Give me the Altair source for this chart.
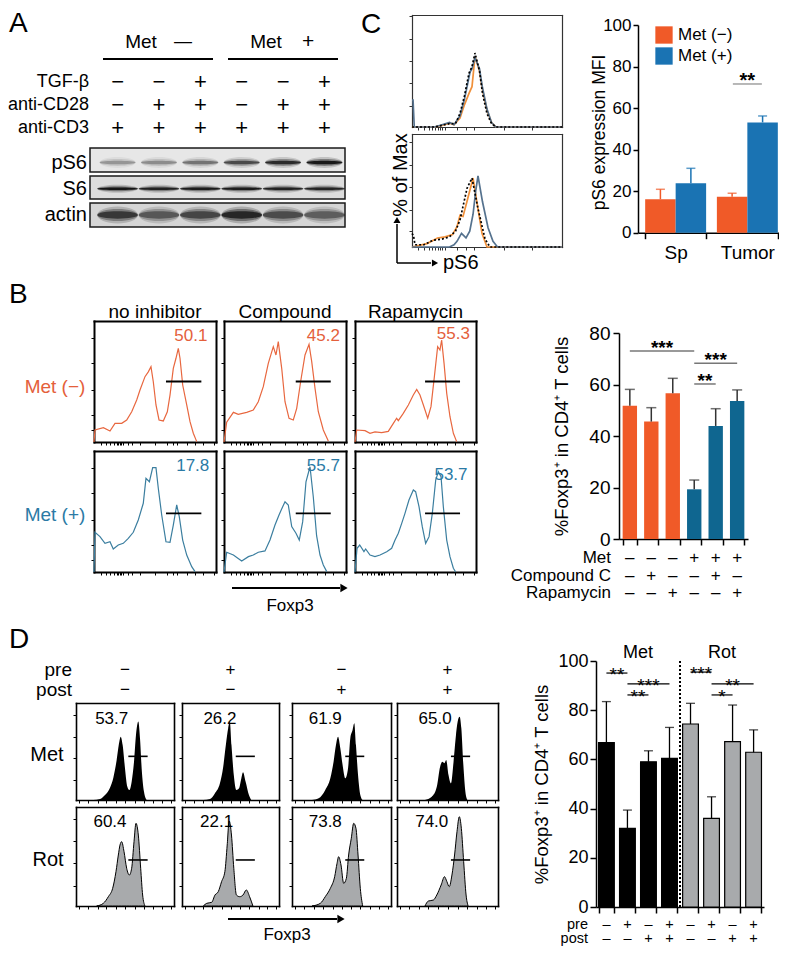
import altair as alt
import pandas as pd

FONT = "Liberation Sans"
W, H = 771, 939

# ======================= DATA =======================
# ---- Panel A : western blot ----
lanes = ["L1", "L2", "L3", "L4", "L5", "L6"]
a_factors = ["TGF-β", "anti-CD28", "anti-CD3"]
a_tgfb = ["−", "−", "+", "−", "−", "+"]
a_cd28 = ["−", "+", "+", "−", "+", "+"]
a_cd3 = ["+", "+", "+", "+", "+", "+"]
blot_rows = ["pS6", "S6", "actin"]
blot_pS6 = [0.30, 0.34, 0.45, 0.66, 0.86, 1.00]
blot_S6 = [0.90, 0.82, 0.86, 0.86, 0.82, 0.80]
blot_actin = [0.85, 0.62, 0.74, 1.00, 0.70, 0.58]

# ---- Panel B : Foxp3 histograms (x, y in % of panel) ----
b_cols = ["no inhibitor", "Compound", "Rapamycin"]
b_rows = ["Met (−)", "Met (+)"]
b_m_noinh_x = [0, 0.8, 7.7, 13.1, 17.2, 22.7, 26.8, 30.9, 35.0, 37.7, 41.8, 44.5, 46.7, 48.6, 50.8, 53.3, 56.8, 60.1, 62.3, 65.0, 67.2, 69.1, 70.5, 72.7, 76.0, 78.7, 81.4, 84.2]
b_m_noinh_y = [0, 9.9, 11.8, 9.1, 15.4, 15.4, 18.2, 25.0, 34.7, 43.0, 54.0, 58.0, 62.2, 49.8, 30.6, 18.2, 17.4, 25.0, 38.8, 60.9, 69.2, 77.4, 69.2, 47.1, 30.6, 16.8, 7.2, 0.3]
b_m_comp_x = [0, 2.2, 7.7, 11.7, 18.6, 24.0, 28.1, 32.2, 36.3, 40.4, 42.6, 44.5, 47.3, 50.0, 53.3, 56.8, 59.6, 62.8, 66.4, 69.7, 71.9, 74.6, 77.3, 81.4, 85.5]
b_m_comp_y = [0, 16.3, 24.5, 22.9, 24.5, 26.4, 33.3, 45.7, 65.0, 78.8, 71.9, 82.9, 60.9, 33.3, 19.6, 18.2, 27.8, 49.8, 71.9, 80.7, 66.4, 44.4, 25.0, 9.9, 0.8]
b_m_rapa_x = [0, 1.4, 8.3, 12.4, 16.5, 22.0, 27.5, 31.7, 34.4, 35.8, 39.9, 44.1, 48.2, 51.0, 53.7, 56.5, 60.1, 62.8, 65.6, 68.3, 70.2, 71.6, 73.6, 75.8, 78.5, 81.3, 84.0]
b_m_rapa_y = [0, 9.9, 9.4, 7.2, 8.3, 7.7, 8.8, 15.4, 19.6, 17.6, 23.7, 30.6, 38.8, 43.5, 38.8, 30.6, 19.6, 29.2, 54.0, 78.8, 76.0, 84.3, 65.0, 40.2, 20.9, 7.2, 0.3]
b_p_noinh_x = [0, 0.8, 4.9, 9.0, 13.1, 15.8, 19.9, 24.0, 28.1, 32.2, 36.3, 40.4, 42.6, 45.4, 48.1, 50.8, 52.7, 55.5, 59.0, 62.3, 65.0, 67.8, 69.9, 72.7, 76.0, 80.1, 82.8]
b_p_noinh_y = [0, 32.8, 29.2, 23.7, 25.0, 19.0, 22.3, 23.7, 27.8, 32.8, 43.0, 56.8, 77.4, 74.6, 86.2, 86.2, 69.2, 47.1, 25.0, 24.5, 38.8, 55.4, 45.7, 26.4, 14.0, 4.4, 0.3]
b_p_comp_x = [0, 2.2, 7.7, 14.5, 20.0, 24.0, 28.1, 33.6, 37.7, 41.8, 45.1, 48.1, 50.0, 52.7, 55.5, 59.0, 61.7, 64.5, 67.2, 70.5, 73.2, 75.9, 78.7, 81.4, 84.2]
b_p_comp_y = [0, 16.3, 14.0, 9.1, 12.7, 14.0, 16.3, 17.4, 26.4, 38.8, 47.1, 54.0, 58.1, 55.4, 37.5, 32.0, 26.4, 41.6, 74.6, 87.0, 62.0, 30.0, 14.0, 5.8, 0.3]
b_p_rapa_x = [0, 1.7, 3.9, 7.4, 8.8, 12.4, 16.5, 20.7, 26.2, 30.3, 33.1, 35.8, 38.6, 41.3, 44.6, 48.2, 50.1, 52.9, 55.6, 58.4, 61.2, 63.9, 66.7, 68.9, 71.1, 73.0, 75.8, 78.5, 81.3, 83.2]
b_p_rapa_y = [0, 19.6, 22.3, 16.8, 19.0, 14.0, 12.7, 14.0, 16.8, 19.6, 26.4, 32.0, 40.2, 48.5, 59.5, 67.8, 66.4, 54.0, 37.5, 23.7, 29.2, 48.5, 76.0, 82.9, 78.8, 54.0, 26.4, 12.7, 3.1, 0]
b_gate_lo = [59.0, 58.8, 57.9]
b_gate_hi = [88.0, 87.5, 86.8]
b_gate_y = [50.0, 48.5]
b_pct_m = ["50.1", "45.2", "55.3"]
b_pct_p = ["17.8", "55.7", "53.7"]
b_pct_m_x = [93.0, 95.0, 95.0]
b_pct_m_y = [88.0, 88.0, 89.0]
b_pct_p_x = [94.5, 95.0, 93.0]
b_pct_p_y = [88.0, 88.0, 80.0]

# ---- Panel B : bar chart ----
b_cats = ["Met− ctrl", "Met− CC", "Met− Rapa", "Met+ ctrl", "Met+ CC", "Met+ Rapa"]
b_foxp3 = [51.7, 45.6, 56.6, 19.3, 43.9, 53.6]
b_foxp3_err = [58.1, 51.0, 62.4, 22.9, 50.6, 57.9]
b_tab_rows = ["Met", "Compound C", "Rapamycin"]
b_tab_met = ["–", "–", "–", "+", "+", "+"]
b_tab_cc = ["–", "+", "–", "–", "+", "–"]
b_tab_rapa = ["–", "–", "+", "–", "–", "+"]
b_sig_from = [0, 3, 3]
b_sig_to = [3, 5, 4]
b_sig_level = [73.0, 68.3, 60.2]
b_sig_mark = ["***", "***", "**"]

# ---- Panel C : pS6 histograms ----
c_top_or_x = [0, 15, 20, 25, 28, 32, 35, 38, 40, 42, 45, 47, 50, 53, 56, 100]
c_top_or_y = [0, 0, 1.5, 3.5, 2, 8, 20, 30, 36, 63, 50, 33, 15, 4, 0, 0]
c_top_bl_x = [0, 0.7, 1.5, 15, 20, 25, 28, 32, 35, 38.7, 40, 42, 45, 47, 50, 53, 56, 100]
c_top_bl_y = [24, 24, 0, 0, 2, 4, 2, 10, 25, 49, 52, 62, 52, 35, 16, 4, 0, 0]
c_top_dot_x = [0, 15, 20, 25, 29, 32, 35, 38, 40, 42, 45, 47, 50, 53, 56, 100]
c_top_dot_y = [0, 0, 1.5, 3, 3, 12, 28, 48, 54, 66, 50, 30, 12, 3, 0, 0]
c_bot_or_x = [0, 10, 17, 22, 27, 30, 32, 34, 37, 40.7, 43, 46.7, 50, 100]
c_bot_or_y = [0, 3, 8, 9, 11, 18, 28, 27, 42, 61, 42, 12, 0, 0]
c_bot_bl_x = [0, 25, 28, 30, 33, 36, 38.5, 40.7, 42.5, 44, 47, 50.7, 54, 57, 100]
c_bot_bl_y = [0, 0, 2, 5, 12, 8, 14, 29, 50, 63, 40, 17, 5, 0, 0]
c_bot_dot_x = [0, 1, 2, 8, 14, 20, 25, 29, 32, 36.7, 40, 44, 48.7, 52, 100]
c_bot_dot_y = [12, 10, 2, 2, 6, 7, 9, 14, 24, 52, 61, 34, 7, 0, 0]

# ---- Panel C : bar chart ----
c_sites = ["Sp", "Tumor"]
c_groups = ["Met (−)", "Met (+)"]
c_met_minus = [16.1, 17.3]
c_met_minus_err = [20.9, 19.0]
c_met_plus = [23.8, 53.1]
c_met_plus_err = [31.0, 56.2]
c_sig_level = [71.6]
c_sig_mark = ["**"]

# ---- Panel D : histograms ----
d_treat_pre = ["−", "+", "−", "+"]
d_treat_post = ["−", "−", "+", "+"]
d_met_1_x = [17.7, 24.5, 29.6, 34.7, 38.1, 41.5, 44.2, 45.6, 47.6, 50.0, 52.4, 54.4, 56.8, 59.2, 61.2, 63.6, 65.3, 67.0, 69.4, 72.1]
d_met_1_y = [0, 1, 5.2, 12.7, 23, 41.2, 60.1, 65.3, 56.7, 32.6, 13.7, 10.3, 18.9, 39.5, 67, 80.8, 63.6, 32.6, 8.6, 0]
d_met_2_x = [22, 28.9, 34, 39.1, 42.5, 45.2, 47.6, 49.3, 51, 53.4, 56.1, 58.8, 61.2, 62.9, 65.6, 69, 71.4]
d_met_2_y = [0, 1, 6.9, 17.2, 34.4, 56.7, 73.9, 80.8, 56.7, 25.8, 10.3, 12, 22.3, 28.5, 18.9, 5.2, 0]
d_met_3_x = [20.2, 26.9, 33.6, 38.7, 42, 44.4, 46.5, 48.8, 51.1, 53.8, 56.6, 58.9, 61.2, 62.9, 64.6, 66.7, 69, 71.3]
d_met_3_y = [0, 1.7, 10.3, 22.3, 39.5, 56.7, 65.3, 53.3, 36.1, 22.3, 32.6, 63.6, 72.2, 79.1, 56.7, 25.8, 5.2, 0]
d_met_4_x = [27.7, 34.4, 39.4, 42.7, 45, 47, 48.7, 51, 53.4, 56, 58.4, 60.4, 62, 63.7, 65.7, 67.7, 69.7]
d_met_4_y = [0, 3.4, 13.7, 34.4, 39.5, 38, 41.2, 25.8, 17.2, 39.5, 67, 82.5, 85.9, 73.9, 36.1, 8.6, 0]
d_rot_1_x = [21.1, 27.9, 33, 37.4, 40.8, 43.2, 44.9, 46.6, 49, 51.7, 54.4, 56.8, 59.2, 61.2, 63.6, 66, 68, 70.4]
d_rot_1_y = [0, 2.7, 9.4, 17.8, 34.7, 51.5, 61.6, 65, 54.9, 38.1, 31.3, 38.1, 65, 83.5, 71.7, 38.1, 11.1, 0]
d_rot_2_x = [22, 25.5, 30.6, 34, 37.4, 40.8, 44.2, 46.6, 48.6, 51, 53.4, 56.1, 59.5, 62.9, 66.3, 69.7, 73.1]
d_rot_2_y = [0, 2.7, 3.7, 11.1, 14.5, 24.6, 34.7, 61.6, 85.9, 71.7, 38.1, 11.1, 9.4, 11.1, 16.2, 9.4, 0]
d_rot_3_x = [20.2, 28.6, 33.6, 38.7, 43.1, 45.5, 47.1, 49.5, 52.2, 54.9, 57.2, 59.9, 62.3, 64.6, 66.7, 69, 71.4]
d_rot_3_y = [0, 2.7, 9.4, 17.8, 29.6, 43.1, 49.8, 41.4, 22.9, 27.9, 51.5, 68.4, 83.5, 78.5, 51.5, 17.8, 0]
d_rot_4_x = [27.7, 31, 36, 39.4, 43.7, 47, 49.4, 51.7, 54.4, 57, 59.4, 61.7, 63.7, 66, 68.4, 70.4]
d_rot_4_y = [0, 5, 6, 11.1, 21.2, 29.6, 24.6, 19.5, 31.3, 51.5, 75.1, 90.2, 78.5, 44.8, 11.1, 0]
d_gate_lo = [53.4, 55.4, 53.8, 53.4]
d_gate_hi = [73.1, 75.1, 73.0, 72.4]
d_gate_y = [45.0, 46.5]
d_pct_met = ["53.7", "26.2", "61.9", "65.0"]
d_pct_rot = ["60.4", "22.1", "73.8", "74.0"]
d_pct_met_x = [36.4, 39.1, 33.6, 37.7]
d_pct_rot_x = [34.7, 35.7, 33.6, 34.4]
d_pct_y = [84.0, 85.0]

# ---- Panel D : bar chart ----
d_cats = ["Met 1", "Met 2", "Met 3", "Met 4", "Rot 1", "Rot 2", "Rot 3", "Rot 4"]
d_group = ["Met", "Met", "Met", "Met", "Rot", "Rot", "Rot", "Rot"]
d_foxp3 = [66.8, 32.0, 59.0, 60.4, 74.4, 36.0, 67.2, 62.9]
d_foxp3_err = [83.5, 39.4, 63.5, 73.0, 82.8, 44.8, 82.1, 72.0]
d_tab_rows = ["pre", "post"]
d_tab_pre = ["–", "+", "–", "+", "–", "+", "–", "+"]
d_tab_post = ["–", "–", "+", "+", "–", "–", "+", "+"]
d_sig_from = [0, 1, 1, 4, 5, 5]
d_sig_to = [1, 3, 2, 5, 7, 6]
d_sig_level = [95.1, 90.7, 86.2, 95.5, 90.7, 86.2]
d_sig_mark = ["**", "***", "**", "***", "**", "*"]

# ======================= STYLE =======================
OR_LINE, BL_LINE = "#E8673F", "#3B7E9F"
OR_TXT, BL_TXT = "#E4603B", "#2B7AA5"
OR_BAR, B_BL_BAR, C_BL_BAR = "#F05A28", "#0F6690", "#1A73B3"
C_OR_H, C_BL_H = "#F0903A", "#55728E"
ROT_GRAY = "#A8AAAC"


def X(p):
    return p - 8


def Y(p):
    return p - 8


L = []
ONE = pd.DataFrame({"a": [0]})


def text(s, x, y, size=18, color="black", align="center", baseline="middle", angle=0, weight="normal"):
    L.append(alt.Chart(pd.DataFrame({"t": [s]})).mark_text(
        font=FONT, fontSize=size, color=color, align=align, baseline=baseline,
        angle=angle, fontWeight=weight).encode(
        text="t:N", x=alt.value(X(x)), y=alt.value(Y(y))))


def seg(x1, y1, x2, y2, color="black", w=1.5, dash=None):
    kw = dict(color=color, strokeWidth=w)
    if dash:
        kw["strokeDash"] = dash
    L.append(alt.Chart(ONE).mark_rule(**kw).encode(
        x=alt.value(X(x1)), y=alt.value(Y(y1)), x2=alt.value(X(x2)), y2=alt.value(Y(y2))))


def head(x, y, shape, size=55):
    L.append(alt.Chart(ONE).mark_point(shape=shape, filled=True, size=size, color="black",
                                       opacity=1, strokeWidth=0).encode(
        x=alt.value(X(x)), y=alt.value(Y(y))))


def box(x1, y1, x2, y2, fill, stroke="#1a1a1a", w=1.5):
    L.append(alt.Chart(ONE).mark_rect(fill=fill, stroke=stroke, strokeWidth=w).encode(
        x=alt.value(X(x1)), x2=alt.value(X(x2)), y=alt.value(Y(y1)), y2=alt.value(Y(y2))))


def hist_panel(x0, y0, x1, y1, fw, lticks, bticks, tick_len=3, fcol="black"):
    xs = alt.Scale(domain=[0, 100], range=[X(x0), X(x1)], nice=False, zero=False)
    ys = alt.Scale(domain=[0, 100], range=[Y(y1), Y(y0)], nice=False, zero=False)
    common = dict(domainColor=fcol, domainWidth=fw, tickColor=fcol, tickWidth=1,
                  labels=False, title=None, grid=False, domainCap="square")
    dummy = pd.DataFrame({"x": [0.0], "y": [0.0]})
    L.append(alt.Chart(dummy).mark_point(opacity=0).encode(
        x=alt.X("x:Q", scale=xs, axis=alt.Axis(orient="bottom", offset=Y(y1) - H, values=bticks,
                                               tickSize=tick_len, **common)),
        y=alt.Y("y:Q", scale=ys, axis=alt.Axis(orient="left", offset=-X(x0), values=lticks,
                                               tickSize=tick_len, **common))))
    L.append(alt.Chart(dummy).mark_point(opacity=0).encode(
        x=alt.X("x:Q", scale=xs, axis=alt.Axis(orient="top", offset=-Y(y0), ticks=False, **common)),
        y=alt.Y("y:Q", scale=ys, axis=alt.Axis(orient="right", offset=X(x1) - W, ticks=False, **common))))
    return xs, ys


def curve(xs, ys, xv, yv, kind="line", **mk):
    ch = alt.Chart(pd.DataFrame({"x": xv, "y": yv}))
    m = ch.mark_line(**mk) if kind == "line" else ch.mark_area(**mk)
    L.append(m.encode(x=alt.X("x:Q", scale=xs, axis=None), y=alt.Y("y:Q", scale=ys, axis=None)))


def gate(xs, ys, lo, hi, gy, w=1.6):
    L.append(alt.Chart(pd.DataFrame({"lo": [lo], "hi": [hi], "g": [gy]})).mark_rule(
        color="black", strokeWidth=w).encode(
        x=alt.X("lo:Q", scale=xs, axis=None), x2="hi:Q", y=alt.Y("g:Q", scale=ys, axis=None)))


def pct(xs, ys, s, lx, ly, color, align, size):
    L.append(alt.Chart(pd.DataFrame({"s": [s], "lx": [lx], "ly": [ly]})).mark_text(
        font=FONT, fontSize=size, color=color, align=align, baseline="middle").encode(
        x=alt.X("lx:Q", scale=xs, axis=None), y=alt.Y("ly:Q", scale=ys, axis=None), text="s:N"))


def band_centers(r0, r1, n, pi, po):
    step = (r1 - r0) / (n - pi + 2 * po)
    c0 = r0 + po * step + (1 - pi) * step / 2
    return c0, c0 + (n - 1) * step


def sig(df, iscale, yscale, color, w, size, dy, weight="normal"):
    base = alt.Chart(df).transform_calculate(m="(datum.i + datum.j) / 2")
    L.append(base.mark_rule(color=color, strokeWidth=w).encode(
        x=alt.X("i:Q", scale=iscale, axis=None), x2="j:Q",
        y=alt.Y("lv:Q", scale=yscale, axis=None)))
    L.append(base.mark_text(font=FONT, fontSize=size, fontWeight=weight, baseline="alphabetic",
                            dy=dy, color="black").encode(
        x=alt.X("m:Q", scale=iscale, axis=None), y=alt.Y("lv:Q", scale=yscale, axis=None), text="s:N"))


# ======================= PANEL A =======================
text("A", 9, 24, size=28, align="left")
text("Met", 141, 42, size=19)
text("—", 183, 42, size=18)
text("Met", 266, 42, size=19)
text("+", 308, 42, size=21)
seg(103, 59, 213, 59, w=2)
seg(228, 59, 338, 59, w=2)

lane_scale = alt.Scale(type="band", domain=lanes, range=[X(100), X(342)], paddingInner=0.15, paddingOuter=0)
f_scale = alt.Scale(type="point", domain=a_factors, range=[Y(81.7), Y(128.3)], padding=0)
hdr = pd.DataFrame({"lane": lanes * 3,
                    "f": [a_factors[0]] * 6 + [a_factors[1]] * 6 + [a_factors[2]] * 6,
                    "s": a_tgfb + a_cd28 + a_cd3})
L.append(alt.Chart(hdr).mark_text(font=FONT, fontSize=22).encode(
    x=alt.X("lane:N", scale=lane_scale, axis=None), y=alt.Y("f:N", scale=f_scale, axis=None), text="s:N"))
L.append(alt.Chart(pd.DataFrame({"f": a_factors})).mark_text(font=FONT, fontSize=18, align="right").encode(
    x=alt.value(X(89)), y=alt.Y("f:N", scale=f_scale, axis=None), text="f:N"))

box(90, 148, 345, 172, "#E7E7E7")
box(90, 176, 345, 199, "#DDDDDD")
box(90, 203, 345, 227, "#D5D5D5")
row_scale = alt.Scale(type="point", domain=blot_rows, range=[Y(162.5), Y(215)], padding=0)
blot_df = pd.DataFrame({"lane": lanes * 3,
                        "row": ["pS6"] * 6 + ["S6"] * 6 + ["actin"] * 6,
                        "v": blot_pS6 + blot_S6 + blot_actin})
L.append(alt.Chart(pd.DataFrame({"row": blot_rows})).mark_text(font=FONT, fontSize=20, align="right").encode(
    x=alt.value(X(87)), y=alt.Y("row:N", scale=row_scale, axis=None), text="row:N"))


def ellipse(ry):
    return f"M-1,0A1,{ry},0,1,1,1,0A1,{ry},0,1,1,-1,0Z"


band_style = {"pS6": (1300, [(0.30, 0.16), (0.19, 0.35), (0.10, 0.8)]),
              "S6": (1650, [(0.20, 0.18), (0.12, 0.4), (0.065, 0.9)]),
              "actin": (1650, [(0.42, 0.2), (0.30, 0.35), (0.18, 0.65)])}
for rname, (sz, styles) in band_style.items():
    for ry, op in styles:
        L.append(alt.Chart(blot_df).transform_filter(alt.datum.row == rname).mark_point(
            shape=ellipse(ry), filled=True, size=sz, color="black", strokeWidth=0).encode(
            x=alt.X("lane:N", scale=lane_scale, axis=None),
            y=alt.Y("row:N", scale=row_scale, axis=None),
            opacity=alt.Opacity("v:Q", scale=alt.Scale(domain=[0, 1], range=[0, op]), legend=None)))

# ======================= PANEL C =======================
text("C", 371, 25, size=28)
C_LT = [[19, 39, 59, 79, 99], [14, 33, 53, 73, 93]]
C_BT = [4, 8, 11, 13, 15, 17, 18.5, 20, 22, 30, 36, 41, 61, 80]
c_curves = [[(c_top_or_x, c_top_or_y, C_OR_H, None), (c_top_bl_x, c_top_bl_y, C_BL_H, None),
             (c_top_dot_x, c_top_dot_y, "black", [2, 2])],
            [(c_bot_or_x, c_bot_or_y, C_OR_H, None), (c_bot_bl_x, c_bot_bl_y, C_BL_H, None),
             (c_bot_dot_x, c_bot_dot_y, "black", [2, 2])]]
for k, (ya, yb) in enumerate([(15, 127), (134, 247)]):
    xs, ys = hist_panel(412, ya, 562, yb, 1.2, C_LT[k], C_BT, tick_len=3, fcol="#333333")
    for cx_, cy_, col, dash in c_curves[k]:
        mk = dict(color=col, strokeWidth=1.7)
        if dash:
            mk["strokeDash"] = dash
        curve(xs, ys, cx_, cy_, **mk)
text("% of Max", 401, 175, size=20, angle=270)
seg(397, 263, 397, 224, w=1.5)
head(397, 220, "triangle-up", 50)
seg(397, 263, 431, 263, w=1.5)
head(435, 263, "triangle-right", 50)
text("pS6", 443, 263, size=20, align="left")

# C bar chart
c_df = pd.DataFrame({"site": c_sites * 2,
                     "grp": [c_groups[0]] * 2 + [c_groups[1]] * 2,
                     "v": c_met_minus + c_met_plus,
                     "e": c_met_minus_err + c_met_plus_err})
cxs = alt.Scale(type="band", domain=c_sites, range=[X(638), X(785)], paddingInner=0.15, paddingOuter=0.1)
cxo = alt.Scale(type="band", domain=c_groups, paddingInner=0.0, paddingOuter=0)
cys = alt.Scale(domain=[0, 100], range=[Y(232.7), Y(25)], nice=False)
ccol = alt.Scale(domain=c_groups, range=[OR_BAR, C_BL_BAR])
c_yaxis = alt.Axis(orient="left", offset=-X(638), values=[0, 20, 40, 60, 80, 100], tickSize=5,
                   labelPadding=2, labelFontSize=17, domainColor="black", tickColor="black",
                   domainWidth=1.5, tickWidth=1.5, grid=False, title="pS6 expression MFI",
                   titleFontSize=17.5, titleFontWeight="normal", titleAngle=270, titleBaseline="middle",
                   titleAlign="center", titleX=599 - 638, titleY=Y(132))
c_xaxis = alt.Axis(orient="bottom", offset=Y(232.7) - H, tickBand="extent", tickSize=6, labelPadding=5,
                   labelFontSize=19, labelAngle=0, domainColor="black", tickColor="black",
                   domainWidth=1.5, tickWidth=1.5, grid=False, title=None)
L.append(alt.Chart(c_df).mark_bar().encode(
    x=alt.X("site:N", scale=cxs, axis=c_xaxis),
    xOffset=alt.XOffset("grp:N", scale=cxo),
    y=alt.Y("v:Q", scale=cys, axis=c_yaxis),
    color=alt.Color("grp:N", scale=ccol, legend=alt.Legend(
        orient="none", legendX=X(655), legendY=Y(26), title=None, symbolType="square",
        symbolSize=300, labelFontSize=17, labelFont=FONT, symbolStrokeWidth=0, padding=0,
        rowPadding=3, labelOffset=5))))
L.append(alt.Chart(c_df).mark_rule(strokeWidth=1.5).encode(
    x=alt.X("site:N", scale=cxs, axis=None), xOffset=alt.XOffset("grp:N", scale=cxo),
    y=alt.Y("v:Q", scale=cys, axis=None), y2="e:Q",
    color=alt.Color("grp:N", scale=ccol, legend=None)))
L.append(alt.Chart(c_df).mark_tick(size=9, thickness=1.5).encode(
    x=alt.X("site:N", scale=cxs, axis=None), xOffset=alt.XOffset("grp:N", scale=cxo),
    y=alt.Y("e:Q", scale=cys, axis=None),
    color=alt.Color("grp:N", scale=ccol, legend=None)))
c_sig = pd.DataFrame({"site": ["Tumor"], "lv": c_sig_level, "s": c_sig_mark})
L.append(alt.Chart(c_sig).mark_tick(size=29, thickness=1.5, color="#777777").encode(
    x=alt.X("site:N", scale=cxs, axis=None), y=alt.Y("lv:Q", scale=cys, axis=None)))
L.append(alt.Chart(c_sig).mark_text(font=FONT, fontSize=20, fontWeight="bold", baseline="alphabetic", dy=3).encode(
    x=alt.X("site:N", scale=cxs, axis=None), y=alt.Y("lv:Q", scale=cys, axis=None), text="s:N"))

# ======================= PANEL B =======================
text("B", 9, 295, size=28, align="left")
B_X = [(94, 216), (224, 346), (355, 476)]
B_Y = [(321, 442), (451, 572)]
B_LT = [10, 22, 43, 65, 86]
B_BT = [6, 10, 13, 16, 18.6, 20, 21.3, 22.5, 24, 28, 31, 37.7, 50, 59.6, 65, 68, 76, 82.8, 89.6, 98]
b_curves = [[(b_m_noinh_x, b_m_noinh_y), (b_m_comp_x, b_m_comp_y), (b_m_rapa_x, b_m_rapa_y)],
            [(b_p_noinh_x, b_p_noinh_y), (b_p_comp_x, b_p_comp_y), (b_p_rapa_x, b_p_rapa_y)]]
b_pcts = [(b_pct_m, b_pct_m_x, b_pct_m_y, OR_TXT), (b_pct_p, b_pct_p_x, b_pct_p_y, BL_TXT)]
for r, (ya, yb) in enumerate(B_Y):
    for c, (xa, xb) in enumerate(B_X):
        xs, ys = hist_panel(xa, ya, xb, yb, 2.0, B_LT, B_BT, tick_len=3)
        cx_, cy_ = b_curves[r][c]
        curve(xs, ys, cx_, cy_, color=OR_LINE if r == 0 else BL_LINE, strokeWidth=1.2)
        gate(xs, ys, b_gate_lo[c], b_gate_hi[c], b_gate_y[r], w=1.8)
        labs, lxs, lys, lcol = b_pcts[r]
        pct(xs, ys, labs[c], lxs[c], lys[c], lcol, "right", 17)
for c, (xa, xb) in enumerate(B_X):
    text(b_cols[c], (xa + xb) / 2, 312, size=19)
text(b_rows[0], 55, 387, size=19, color=OR_TXT)
text(b_rows[1], 55, 515, size=19, color=BL_TXT)
seg(232, 588, 340, 588, w=2)
head(344, 588, "triangle-right", 70)
text("Foxp3", 290, 606, size=17)

# B bar chart
B_R0, B_R1, B_PI, B_PO = 619, 748, 0.33, 0.17
bdf = pd.DataFrame({"cat": b_cats, "v": b_foxp3, "e": b_foxp3_err, "met": b_tab_met})
bxs = alt.Scale(type="band", domain=b_cats, range=[X(B_R0), X(B_R1)], paddingInner=B_PI, paddingOuter=B_PO)
bys = alt.Scale(domain=[0, 80], range=[Y(539), Y(333)], nice=False)
bcol = alt.Scale(domain=["–", "+"], range=[OR_BAR, B_BL_BAR])
b_yaxis = alt.Axis(orient="left", offset=-X(B_R0), values=[0, 20, 40, 60, 80], tickSize=6, labelPadding=3,
                   labelFontSize=19, domainColor="black", tickColor="black", domainWidth=1.5, tickWidth=1.5,
                   grid=False, title="%Foxp3⁺ in CD4⁺ T cells", titleFontSize=18.5, titleFontWeight="normal",
                   titleAngle=270, titleBaseline="middle", titleAlign="center", titleX=561 - B_R0, titleY=Y(436))
b_xaxis = alt.Axis(orient="bottom", offset=Y(539) - H, tickBand="extent", tickSize=6, labels=False,
                   domainColor="black", tickColor="black", domainWidth=1.5, tickWidth=1.5, grid=False, title=None)
L.append(alt.Chart(bdf).mark_bar().encode(
    x=alt.X("cat:N", scale=bxs, axis=b_xaxis), y=alt.Y("v:Q", scale=bys, axis=b_yaxis),
    color=alt.Color("met:N", scale=bcol, legend=None)))
L.append(alt.Chart(bdf).mark_rule(strokeWidth=1.5, color="#333333").encode(
    x=alt.X("cat:N", scale=bxs, axis=None), y=alt.Y("v:Q", scale=bys, axis=None), y2="e:Q"))
L.append(alt.Chart(bdf).mark_tick(size=10, thickness=1.5, color="#333333").encode(
    x=alt.X("cat:N", scale=bxs, axis=None), y=alt.Y("e:Q", scale=bys, axis=None)))
bc0, bc1 = band_centers(B_R0, B_R1, len(b_cats), B_PI, B_PO)
bis = alt.Scale(domain=[0, len(b_cats) - 1], range=[X(bc0), X(bc1)], nice=False, zero=False)
sig(pd.DataFrame({"i": b_sig_from, "j": b_sig_to, "lv": b_sig_level, "s": b_sig_mark}),
    bis, bys, "#777777", 1.5, 19, 3, weight="bold")
b_tab = pd.DataFrame({"cat": b_cats * 3,
                      "row": [b_tab_rows[0]] * 6 + [b_tab_rows[1]] * 6 + [b_tab_rows[2]] * 6,
                      "s": b_tab_met + b_tab_cc + b_tab_rapa})
b_rs = alt.Scale(type="point", domain=b_tab_rows, range=[Y(558), Y(593)], padding=0)
L.append(alt.Chart(b_tab).mark_text(font=FONT, fontSize=17).encode(
    x=alt.X("cat:N", scale=bxs, axis=None), y=alt.Y("row:N", scale=b_rs, axis=None), text="s:N"))
L.append(alt.Chart(pd.DataFrame({"row": b_tab_rows})).mark_text(font=FONT, fontSize=17, align="right").encode(
    x=alt.value(X(611)), y=alt.Y("row:N", scale=b_rs, axis=None), text="row:N"))

# ======================= PANEL D =======================
text("D", 9, 640, size=28, align="left")
D_X = [(76, 174), (182, 279), (292, 391), (397, 498)]
D_Y = [(703, 800), (807, 906)]
D_LT = [20.6, 43, 65.3, 87.6]
D_BT = [3, 12, 22, 31, 41, 50, 60, 69, 79, 88, 97]
d_curves = [[(d_met_1_x, d_met_1_y), (d_met_2_x, d_met_2_y), (d_met_3_x, d_met_3_y), (d_met_4_x, d_met_4_y)],
            [(d_rot_1_x, d_rot_1_y), (d_rot_2_x, d_rot_2_y), (d_rot_3_x, d_rot_3_y), (d_rot_4_x, d_rot_4_y)]]
d_pcts = [(d_pct_met, d_pct_met_x), (d_pct_rot, d_pct_rot_x)]
for r, (ya, yb) in enumerate(D_Y):
    for c, (xa, xb) in enumerate(D_X):
        xs, ys = hist_panel(xa, ya, xb, yb, 1.6, D_LT, D_BT, tick_len=3)
        cx_, cy_ = d_curves[r][c]
        if r == 0:
            curve(xs, ys, cx_, cy_, kind="area", color="black", interpolate="monotone")
        else:
            curve(xs, ys, cx_, cy_, kind="area", fill=ROT_GRAY, stroke="black", strokeWidth=1,
                  interpolate="monotone")
        gate(xs, ys, d_gate_lo[c], d_gate_hi[c], d_gate_y[r], w=1.6)
        labs, lxs = d_pcts[r]
        pct(xs, ys, labs[c], lxs[c], d_pct_y[r], "black", "center", 17)
text("Met", 47, 755, size=20)
text("Rot", 48, 860, size=20)
text("pre", 72, 670, size=19, align="right")
text("post", 72, 690, size=19, align="right")
for c, (xa, xb) in enumerate(D_X):
    text(d_treat_pre[c], (xa + xb) / 2, 670, size=17)
    text(d_treat_post[c], (xa + xb) / 2, 690, size=17)
seg(228, 919, 337, 919, w=2)
head(341, 919, "triangle-right", 70)
text("Foxp3", 287, 935, size=17)

# D bar chart
D_R0, D_R1, D_PI, D_PO = 596, 764, 0.25, 0.12
ddf = pd.DataFrame({"cat": d_cats, "grp": d_group, "v": d_foxp3, "e": d_foxp3_err,
                    "idx": list(range(len(d_cats)))})
dxs = alt.Scale(type="band", domain=d_cats, range=[X(D_R0), X(D_R1)], paddingInner=D_PI, paddingOuter=D_PO)
dys = alt.Scale(domain=[0, 100], range=[Y(907), Y(661)], nice=False)
dcol = alt.Scale(domain=["Met", "Rot"], range=["black", ROT_GRAY])
d_yaxis = alt.Axis(orient="left", offset=-X(D_R0), values=[0, 20, 40, 60, 80, 100], tickSize=6, labelPadding=2,
                   labelFontSize=18, domainColor="black", tickColor="black", domainWidth=1.5, tickWidth=1.5,
                   grid=False, title="%Foxp3⁺ in CD4⁺ T cells", titleFontSize=18.5, titleFontWeight="normal",
                   titleAngle=270, titleBaseline="middle", titleAlign="center", titleX=541 - D_R0, titleY=Y(784))
d_xaxis = alt.Axis(orient="bottom", offset=Y(907) - H, tickBand="extent", tickSize=6, labels=False,
                   domainColor="black", tickColor="black", domainWidth=1.5, tickWidth=1.5, grid=False, title=None)
L.append(alt.Chart(ddf).mark_bar(stroke="black", strokeWidth=1.2).encode(
    x=alt.X("cat:N", scale=dxs, axis=d_xaxis), y=alt.Y("v:Q", scale=dys, axis=d_yaxis),
    color=alt.Color("grp:N", scale=dcol, legend=None)))
L.append(alt.Chart(ddf).mark_rule(strokeWidth=1.3, color="black").encode(
    x=alt.X("cat:N", scale=dxs, axis=None), y=alt.Y("v:Q", scale=dys, axis=None), y2="e:Q"))
L.append(alt.Chart(ddf).mark_tick(size=9, thickness=1.3, color="black").encode(
    x=alt.X("cat:N", scale=dxs, axis=None), y=alt.Y("e:Q", scale=dys, axis=None)))
dc0, dc1 = band_centers(D_R0, D_R1, len(d_cats), D_PI, D_PO)
dis = alt.Scale(domain=[0, len(d_cats) - 1], range=[X(dc0), X(dc1)], nice=False, zero=False)
# divider between the Met and Rot groups
L.append(alt.Chart(ddf).transform_aggregate(last="max(idx)", groupby=["grp"]).transform_filter(
    alt.datum.grp == "Met").transform_calculate(b="datum.last + 0.5", y0="0", y1="100").mark_rule(
    color="black", strokeWidth=2, strokeDash=[2, 2]).encode(
    x=alt.X("b:Q", scale=dis, axis=None), y=alt.Y("y0:Q", scale=dys, axis=None), y2="y1:Q"))
L.append(alt.Chart(ddf).transform_aggregate(m="mean(idx)", groupby=["grp"]).mark_text(
    font=FONT, fontSize=18).encode(
    x=alt.X("m:Q", scale=dis, axis=None), y=alt.value(Y(653)), text="grp:N"))
sig(pd.DataFrame({"i": d_sig_from, "j": d_sig_to, "lv": d_sig_level, "s": d_sig_mark}),
    dis, dys, "black", 1.2, 19, 8)
d_tab = pd.DataFrame({"cat": d_cats * 2,
                      "row": [d_tab_rows[0]] * 8 + [d_tab_rows[1]] * 8,
                      "s": d_tab_pre + d_tab_post})
d_rs = alt.Scale(type="point", domain=d_tab_rows, range=[Y(924.5), Y(939)], padding=0)
L.append(alt.Chart(d_tab).mark_text(font=FONT, fontSize=14.5).encode(
    x=alt.X("cat:N", scale=dxs, axis=None), y=alt.Y("row:N", scale=d_rs, axis=None), text="s:N"))
L.append(alt.Chart(pd.DataFrame({"row": d_tab_rows})).mark_text(font=FONT, fontSize=14.5, align="right").encode(
    x=alt.value(X(588)), y=alt.Y("row:N", scale=d_rs, axis=None), text="row:N"))

# ======================= ASSEMBLE =======================
chart = alt.layer(*L).resolve_scale(
    x="independent", y="independent", color="independent", opacity="independent"
).properties(
    width=W, height=H, padding=0, autosize=alt.AutoSizeParams(type="none")
).configure_view(stroke=None).configure_axis(labelFont=FONT, titleFont=FONT, labelColor="black",
                                             titleColor="black")

chart.save("out.html", embed_options={"renderer": "svg", "actions": False})
